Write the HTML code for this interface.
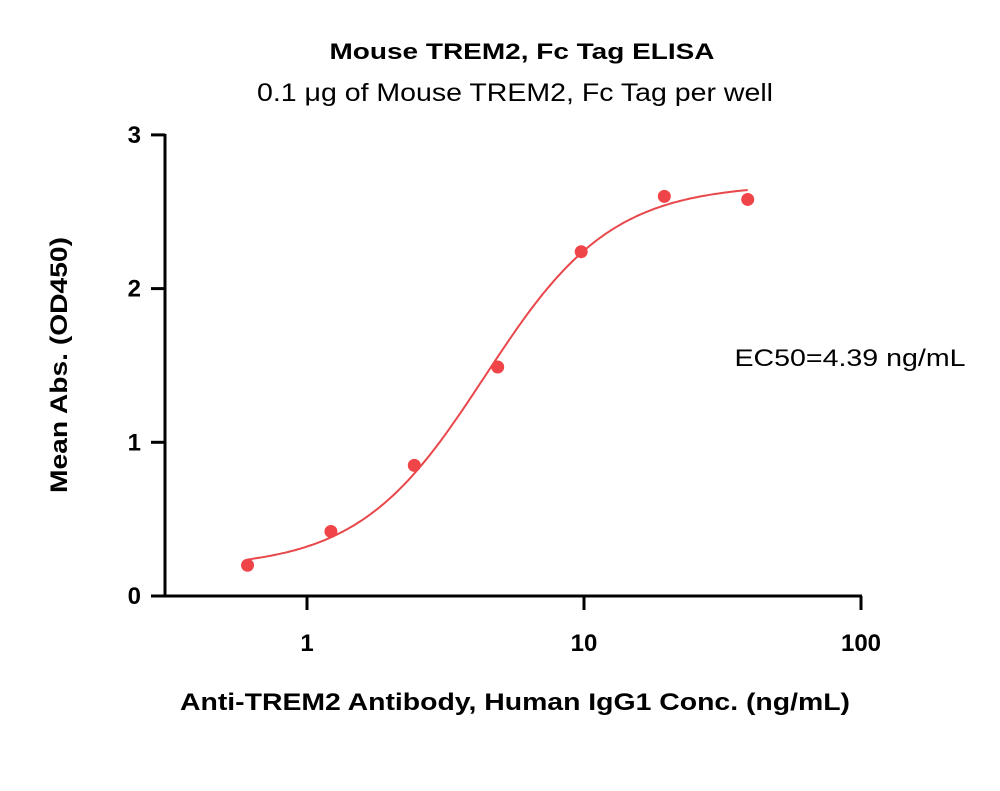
<!DOCTYPE html>
<html><head><meta charset="utf-8"><style>
body{margin:0;background:#fff;}
svg{display:block;font-family:"Liberation Sans",sans-serif;}
</style></head><body>
<svg id="chart" width="1000" height="791">
<text x="522" y="59" text-anchor="middle" font-size="22" font-weight="bold" textLength="385" lengthAdjust="spacingAndGlyphs">Mouse TREM2, Fc Tag ELISA</text>
<text x="515" y="101" text-anchor="middle" font-size="25" textLength="516" lengthAdjust="spacingAndGlyphs">0.1 μg of Mouse TREM2, Fc Tag per well</text>
<text x="850" y="366" text-anchor="middle" font-size="24" textLength="231" lengthAdjust="spacingAndGlyphs">EC50=4.39 ng/mL</text>
<text x="515" y="710" text-anchor="middle" font-size="24" font-weight="bold" textLength="670" lengthAdjust="spacingAndGlyphs">Anti-TREM2 Antibody, Human IgG1 Conc. (ng/mL)</text>
<text transform="translate(67,365) rotate(-90)" text-anchor="middle" font-size="24" font-weight="bold" textLength="256" lengthAdjust="spacingAndGlyphs">Mean Abs. (OD450)</text>
<g id="axes"></g>
<g id="marks"></g>
</svg>
<script>
const xVals=[0.61,1.22,2.44,4.88,9.77,19.5,39];
const yVals=[0.20,0.42,0.85,1.49,2.24,2.60,2.58];
const yTicks=[0,1,2,3];
const xTicks=[1,10,100];
const fitBottom=0.18, fitTop=2.68, fitEC50=4.39, fitHill=1.9;
const NS="http://www.w3.org/2000/svg";
const X=v=>307+277*Math.log10(v);
const Y=v=>596-153.7*v;
function mk(tag,attrs,parent){const e=document.createElementNS(NS,tag);for(const k in attrs)e.setAttribute(k,attrs[k]);parent.appendChild(e);return e;}
const axes=document.getElementById('axes'),marks=document.getElementById('marks');
let e=mk('line',{x1:165,y1:Y(3)-1,x2:165,y2:Y(0)+1.5,stroke:'#000','stroke-width':3},axes);


e=mk('line',{x1:165,y1:Y(0),x2:X(100)+1,y2:Y(0),stroke:'#000','stroke-width':3},axes);


yTicks.forEach(t=>{
 const l=mk('line',{x1:151,y1:Y(t),x2:165,y2:Y(t),stroke:'#000','stroke-width':3},axes);
 
 
 const tx=mk('text',{x:141,y:Y(t)+8,'text-anchor':'end','font-size':24,'font-weight':'bold'},axes);
 tx.textContent=t;
 
 
});
xTicks.forEach(t=>{
 const l=mk('line',{x1:X(t),y1:Y(0),x2:X(t),y2:Y(0)+14,stroke:'#000','stroke-width':3},axes);
 
 
 const tx=mk('text',{x:X(t),y:Y(0)+55,'text-anchor':'middle','font-size':24,'font-weight':'bold'},axes);
 tx.textContent=t;
 
 
});
let d='';
const lo=Math.log10(xVals[0]),hi=Math.log10(xVals[xVals.length-1]);
for(let i=0;i<=200;i++){const lv=lo+(hi-lo)*i/200,v=Math.pow(10,lv);
 const y=fitBottom+(fitTop-fitBottom)/(1+Math.pow(fitEC50/v,fitHill));
 d+=(i?'L':'M')+X(v).toFixed(1)+','+Y(y).toFixed(1);}
e=mk('path',{d:d,fill:'none',stroke:'#e8474b','stroke-width':2},marks);


xVals.forEach((v,i)=>{
 const c=mk('circle',{cx:X(v),cy:Y(yVals[i]),r:6.5,fill:'#ef4448'},marks);
 
 
});
</script>
</body></html>
